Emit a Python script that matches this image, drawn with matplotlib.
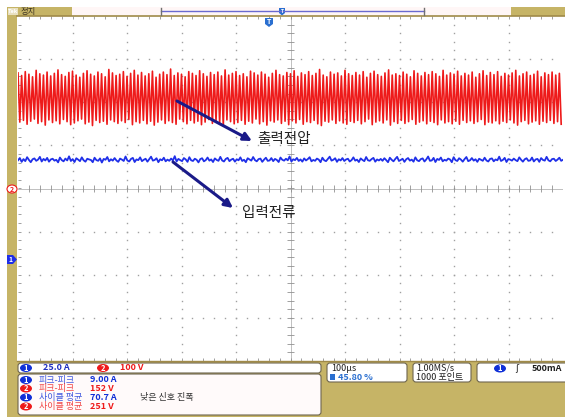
import matplotlib
matplotlib.use('Agg')
import numpy as np
import matplotlib.pyplot as plt
from matplotlib.patches import FancyBboxPatch, Rectangle, Ellipse, Polygon

plt.rcParams['font.family'] = ['Noto Sans CJK KR', 'DejaVu Sans']

# ---- data ----
# ch2 (output voltage, V): peak and trough of each ripple cycle
red_peaks = [
    268, 262, 271, 265, 259, 274, 266, 263, 270, 261, 267, 275, 264, 260, 269,
    272, 263, 258, 267, 273, 265, 261, 270, 266, 259, 276, 268, 262, 265, 271,
    260, 267, 274, 263, 269, 261, 266, 272, 258, 265, 270, 264, 277, 262, 268,
    265, 259, 271, 267, 262, 273, 266, 260, 269, 264, 270, 261, 275, 263, 267,
    271, 262, 266, 259, 272, 268, 263, 270, 265, 258, 267, 274, 264, 261, 269,
    266, 273, 260, 268, 264, 271, 262, 267, 276, 263, 259, 270, 265, 268, 261,
    274, 266, 262, 269, 263, 271, 258, 267, 272, 264, 260, 268, 275, 263, 266,
    262, 270, 265, 259, 273, 267, 261, 269, 264, 271, 266, 260, 274, 263, 268,
    265, 272, 261, 267, 263, 270, 258, 266, 273, 262, 269, 264, 271, 260, 267,
    263, 268, 274, 261, 266, 270, 262, 265, 272, 259, 268, 264, 270, 263, 267]
red_troughs = [
    154, 158, 149, 156, 161, 151, 155, 147, 159, 153, 157, 150, 160, 155, 148,
    152, 157, 161, 150, 154, 146, 158, 153, 156, 149, 159, 155, 151, 157, 153,
    160, 148, 155, 152, 158, 150, 156, 147, 154, 159, 151, 157, 153, 149, 161,
    155, 150, 158, 152, 156, 148, 154, 160, 151, 157, 153, 146, 159, 155, 150,
    153, 158, 149, 156, 152, 161, 150, 155, 147, 157, 154, 159, 151, 156, 148,
    157, 152, 160, 149, 155, 153, 158, 150, 146, 156, 154, 159, 151, 157, 152,
    149, 156, 153, 158, 150, 155, 161, 148, 154, 157, 152, 159, 147, 155, 151,
    158, 151, 155, 160, 149, 154, 157, 150, 156, 153, 148, 159, 152, 155, 150,
    156, 149, 158, 153, 157, 151, 155, 160, 148, 154, 152, 157, 150, 156, 153,
    159, 152, 147, 155, 158, 150, 154, 157, 149, 156, 153, 158, 151, 155, 149]

# ch1 (input current, A)
blue_current = [
    58.1, 59.4, 57.2, 58.8, 57.6, 59.9, 58.3, 57.0, 58.7, 59.2, 57.8, 58.5, 60.1, 57.4, 58.9, 58.0, 59.5, 57.3, 58.6, 59.0,
    57.9, 58.4, 56.9, 59.7, 58.2, 57.5, 59.1, 58.0, 60.4, 57.7, 58.8, 57.1, 59.3, 58.5, 57.6, 59.8, 58.1, 57.3, 59.0, 58.6,
    58.3, 57.0, 59.6, 58.2, 57.8, 59.2, 56.8, 58.9, 58.4, 60.0, 57.5, 58.7, 57.9, 59.4, 58.0, 57.2, 59.1, 58.5, 57.7, 60.3,
    58.0, 57.4, 58.9, 59.5, 57.1, 58.6, 58.2, 59.8, 57.6, 58.4, 59.0, 57.3, 58.8, 60.2, 57.9, 58.3, 59.3, 57.0, 58.7, 58.1,
    59.6, 57.5, 58.5, 57.8, 59.1, 58.0, 60.5, 57.4, 58.9, 58.2, 57.6, 59.4, 58.6, 57.2, 59.9, 58.1, 57.7, 59.0, 58.4, 56.9,
    58.8, 59.3, 57.5, 58.2, 59.7, 57.9, 58.6, 57.1, 59.2, 58.3, 57.8, 60.1, 58.0, 57.4, 58.9, 59.5, 57.6, 58.5, 59.0, 57.3,
    58.7, 58.1, 59.8, 57.7, 58.4, 57.0, 59.3, 58.6, 57.9, 60.0, 58.2, 57.5, 58.8, 59.1, 57.2, 58.5, 59.6, 57.8, 58.0, 59.4,
    57.6, 58.9, 58.3, 57.1, 59.7, 58.4, 57.9, 59.0, 58.1, 60.3, 57.4, 58.7, 58.2, 59.5, 57.7, 58.6, 57.3, 59.2, 58.0, 58.8,
    59.9, 57.5, 58.3, 57.8, 59.1, 58.5, 57.0, 59.6, 58.1, 57.6, 58.9, 60.2, 57.9, 58.4, 59.3, 57.2, 58.7, 58.0, 59.4, 57.7,
    58.6, 59.0, 57.4, 58.2, 59.8, 57.9, 58.5, 57.1, 59.2, 58.3, 57.6, 60.0, 58.1, 57.8, 58.8, 59.5, 57.3, 58.6, 58.0, 58.9,
    57.8, 59.3, 58.2, 57.0, 59.6, 58.4, 57.5, 58.9, 60.1, 57.7, 58.3, 59.0, 57.2, 58.7, 59.4, 57.9, 58.5, 57.3, 59.8, 58.1,
    57.6, 58.8, 59.2, 57.4, 58.6, 60.3, 57.8, 58.0, 59.5, 57.1, 58.9, 58.3, 59.7, 57.5, 58.4, 57.9, 59.1, 58.6, 57.0, 59.9,
    58.2, 57.7, 59.3, 58.5, 57.3, 58.8, 60.0, 57.6, 58.1, 59.4, 57.9, 58.7, 57.2, 59.0, 58.4, 57.8, 59.6, 58.0, 57.4, 58.9,
    59.2, 57.5, 58.6, 58.1, 60.2, 57.7, 58.3, 59.5, 57.1, 58.8, 58.5, 57.9, 59.1, 58.2, 57.6, 59.8, 58.4, 57.3, 58.7, 59.3,
    57.8, 58.0, 59.7, 57.4, 58.6, 58.9, 57.2, 59.4, 58.3, 57.9, 60.1, 58.1, 57.5, 58.8, 59.0, 57.7, 58.5, 59.6, 57.8, 58.4]

ch1_scale, ch1_pos = 25.0, -1.67   # A/div, ground marker (div)
ch2_scale, ch2_pos = 100.0, 0.0    # V/div

W, H = 565, 417
TAN = '#C6B466'
EDGE = '#6E6650'
BLUE = '#1F2FE8'
RED = '#EE1A1A'

fig = plt.figure(figsize=(W / 100, H / 100), dpi=100)
fig.patch.set_facecolor('white')

# scope graticule, 10 x 8 divisions
ax = fig.add_axes([18 / W, (H - 361) / H, 545 / W, 345 / H])
ax.set_xlim(0, 10)
ax.set_ylim(-4, 4)
ax.axis('off')

minor_x = np.arange(0.2, 10, 0.2)
minor_y = np.arange(-3.8, 4, 0.2)
for gx in [1, 2, 3, 4, 6, 7, 8, 9]:
    ax.plot([gx] * len(minor_y), minor_y, ls='none', marker='s', ms=1.0, color='#A0A0A0', mew=0)
for gy in [-3, -2, -1, 1, 2, 3]:
    ax.plot(minor_x, [gy] * len(minor_x), ls='none', marker='s', ms=1.0, color='#A0A0A0', mew=0)
ax.axhline(0, color='#B5B5B5', lw=0.6)
ax.axvline(5, color='#B5B5B5', lw=0.6)
ax.vlines(minor_x, -0.07, 0.07, color='#909090', lw=0.6)
ax.hlines(minor_y, 4.94, 5.06, color='#909090', lw=0.6)
ax.vlines(minor_x, 3.92, 4, color='#909090', lw=0.6)
ax.vlines(minor_x, -4, -3.92, color='#909090', lw=0.6)
ax.hlines(minor_y, 0, 0.05, color='#909090', lw=0.6)

# traces
n = len(red_peaks)
rx = np.empty(2 * n)
ry = np.empty(2 * n)
rx[0::2] = np.arange(n) * 10 / n
rx[1::2] = (np.arange(n) + 0.5) * 10 / n
ry[0::2] = np.array(red_peaks) / ch2_scale + ch2_pos
ry[1::2] = np.array(red_troughs) / ch2_scale + ch2_pos
ax.plot(rx, ry, color=RED, lw=1.2)

bx = np.linspace(0, 10, len(blue_current))
by = np.array(blue_current) / ch1_scale + ch1_pos
ax.plot(bx, by, color=BLUE, lw=1.3)

# overlay in pixel coordinates for the scope chrome
ov = fig.add_axes([0, 0, 1, 1])
ov.set_xlim(0, W)
ov.set_ylim(H, 0)
ov.axis('off')

ov.add_patch(Rectangle((72, 7), 439, 8, fc='#FFF6F6', ec='none'))
ov.add_patch(Rectangle((7, 7), 65, 9, fc=TAN, ec='none'))
ov.add_patch(Rectangle((511, 7), 54, 9, fc=TAN, ec='none'))
ov.add_patch(Rectangle((8, 8), 10, 7, fc='#E8E0C0', ec='none'))
ov.text(13, 11.7, 'Tek', fontsize=4, color='white', ha='center', va='center', fontweight='bold')
ov.text(21, 11.5, '정지', fontsize=6, color='#3A3020', va='center')
ov.plot([17, 565], [15.5, 15.5], color='#A08A48', lw=1.2)
ov.add_patch(Rectangle((7, 15), 10, H - 15, fc=TAN, ec='none'))
ov.add_patch(Rectangle((7, 361), W - 7, H - 361, fc=TAN, ec='none'))
ov.plot([17, 565], [361, 361], color='#A08A48', lw=1.0)

# record view bar
ov.plot([161, 424], [11, 11], color='#6A6AD0', lw=1.0)
ov.plot([161, 161], [8, 15], color='#707070', lw=1.0)
ov.plot([424, 424], [8, 15], color='#707070', lw=1.0)
ov.add_patch(Polygon([[279, 8], [285, 8], [285, 13], [282, 15.5], [279, 13]], fc='#2A6FD0', ec='none'))
ov.text(282, 11, 'T', fontsize=3.5, color='white', ha='center', va='center', fontweight='bold')
ov.add_patch(Polygon([[265, 18], [273, 18], [273, 24], [269, 27], [265, 24]], fc='#2A6FD0', ec='none'))
ov.text(269, 21.8, 'T', fontsize=5, color='white', ha='center', va='center', fontweight='bold')


def badge(x, y, label, color, w=12, h=8):
    ov.add_patch(Ellipse((x, y), w, h, fc=color, ec='none'))
    ov.text(x, y + 0.3, label, fontsize=5.5, color='white', ha='center', va='center', fontweight='bold')


# channel ground markers
ov.add_patch(Ellipse((12, 189), 10, 8, fc='white', ec=RED, lw=0.8))
ov.text(12, 189.3, '2', fontsize=5, color=RED, ha='center', va='center', fontweight='bold')
ov.add_patch(Polygon([[7, 255], [13, 255], [17, 259.5], [13, 264], [7, 264]], fc=BLUE, ec='none'))
ov.text(11, 259.5, '1', fontsize=5, color='white', ha='center', va='center', fontweight='bold')

# annotations
arrow_c = '#1A1A88'
ov.annotate('', xy=(252, 141), xytext=(177, 101),
            arrowprops=dict(arrowstyle='-|>', color=arrow_c, lw=2.2, mutation_scale=12, shrinkA=0, shrinkB=0))
ov.text(257, 139, '출력전압', fontsize=10.5, va='center', color='#222222')
ov.annotate('', xy=(233, 208), xytext=(173, 162),
            arrowprops=dict(arrowstyle='-|>', color=arrow_c, lw=2.2, mutation_scale=12, shrinkA=0, shrinkB=0))
ov.text(242, 213, '입력전류', fontsize=10.5, va='center', color='#222222')


def box(x, y, w, h, fc='white'):
    ov.add_patch(FancyBboxPatch((x, y), w, h, boxstyle='round,pad=0,rounding_size=3',
                                fc=fc, ec=EDGE, lw=0.8))


# bottom status panel
box(18, 363, 303, 10)
badge(26, 368, '1', '#1030D8')
ov.text(43, 368, '25.0 A', fontsize=6.5, color='#2030C0', va='center', fontweight='bold')
badge(103, 368, '2', RED)
ov.text(120, 368, '100 V', fontsize=6.5, color=RED, va='center', fontweight='bold')

box(18, 374, 303, 41, fc='#FFFAFA')
rows = [('1', '#1030D8', '피크-피크', '9.00 A', 380),
        ('2', RED, '피크-피크', '152 V', 388.5),
        ('1', '#1030D8', '사이클 평균', '70.7 A', 397.5),
        ('2', RED, '사이클 평균', '251 V', 406.5)]
for num, col, lab, val, yy in rows:
    badge(26, yy, num, col)
    ov.text(39, yy, lab, fontsize=6.5, color=col, va='center', alpha=0.8)
    ov.text(90, yy, val, fontsize=6.5, color=col, va='center', fontweight='bold')
ov.text(140, 397.5, '낮은 신호 진폭', fontsize=6.5, color='#303030', va='center')

box(327, 363, 80, 19)
ov.text(331, 368.5, '100µs', fontsize=6.5, color='#202020', va='center')
ov.add_patch(Rectangle((330, 374), 5, 6, fc='#2A6FD0', ec='none'))
ov.text(338, 377.5, '45.80 %', fontsize=6.5, color='#2A6FD0', va='center', fontweight='bold')

box(413, 363, 58, 19)
ov.text(416, 368.5, '1.00MS/s', fontsize=6.5, color='#202020', va='center')
ov.text(416, 377.5, '1000 포인트', fontsize=6.5, color='#202020', va='center')

box(477, 363, 92, 19)
badge(500, 368.5, '1', '#1030D8')
ov.text(515, 368.5, 'ʃ', fontsize=6.5, color='#202020', va='center')
ov.text(532, 368.5, '500mA', fontsize=6.5, color='#202020', va='center', fontweight='bold')

fig.savefig('out.png', dpi=100, facecolor='white')
